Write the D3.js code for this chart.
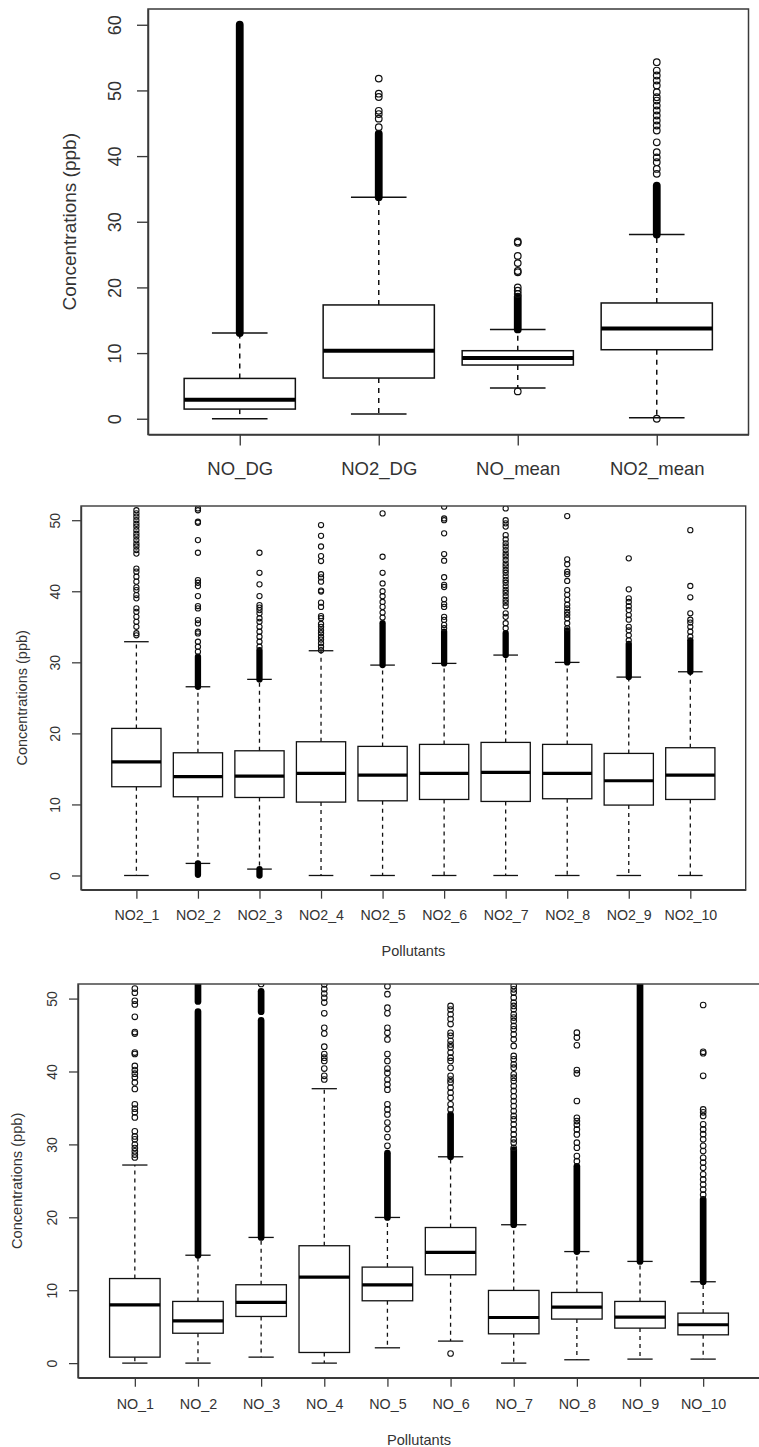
<!DOCTYPE html>
<html><head><meta charset="utf-8">
<script src="https://cdn.jsdelivr.net/npm/d3@7/dist/d3.min.js"></script>
<style>
body{margin:0;background:#fff;}
svg{display:block;}
text{font-family:"Liberation Sans",Arial,sans-serif;fill:#333;}
</style></head><body>
<svg id="chart" width="759" height="1447"></svg>
<script>
// ---------------- Panel 1 data ----------------
const p1Categories = ["NO_DG", "NO2_DG", "NO_mean", "NO2_mean"];
const p1Min    = [0, 0.71, 4.67, 0.15];
const p1Q1     = [1.47, 6.2, 8.18, 10.51];
const p1Median = [2.9, 10.36, 9.25, 13.76];
const p1Q3     = [6.14, 17.33, 10.36, 17.63];
const p1Max    = [13.06, 33.75, 13.6, 28.04];
const p1Dense  = [[[13.06, 60.0]], [[33.75, 43.4]], [[13.6, 18.6]], [[28.04, 35.5]]];
const p1Outliers = [
  [],
  [44.4, 45.7, 46.4, 46.9, 49.0, 49.5, 51.8],
  [19.0, 19.5, 20.0, 22.3, 22.5, 23.7, 24.8, 26.8, 27.0, 4.16],
  [37.3, 38.05, 39.07, 39.8, 40.6, 42.1, 43.9, 44.66, 45.42, 46.18, 46.94, 47.7, 48.46, 48.97, 49.73, 50.75, 51.5, 52.27, 53.03, 54.3, 0.0]
];
const p1Ticks = [0, 10, 20, 30, 40, 50, 60];

// ---------------- Panel 2 data ----------------
const p2Categories = ["NO2_1","NO2_2","NO2_3","NO2_4","NO2_5","NO2_6","NO2_7","NO2_8","NO2_9","NO2_10"];
const p2Min    = [0, 1.7, 0.9, 0, 0, 0, 0, 0, 0, 0];
const p2Q1     = [12.49, 11.08, 10.98, 10.33, 10.51, 10.7, 10.42, 10.8, 9.91, 10.7];
const p2Median = [16.0, 13.9, 13.97, 14.37, 14.13, 14.37, 14.5, 14.37, 13.33, 14.13];
const p2Q3     = [20.7, 17.27, 17.55, 18.82, 18.17, 18.45, 18.73, 18.45, 17.18, 17.98];
const p2Max    = [32.9, 26.56, 27.6, 31.63, 29.61, 29.85, 31.02, 29.99, 27.92, 28.67];
const p2Dense  = [
  [], [[26.56, 30.8], [0.1, 1.7]], [[27.6, 31.7], [0.0, 0.9]], [],
  [[29.61, 35.5]], [[29.85, 34.3]], [[31.02, 34.1]], [[29.99, 34.5]], [[27.92, 32.6]], [[28.67, 33.1]]
];
const p2Outliers = [
  [51.4, 50.96, 50.5, 50.0, 49.5, 49.1, 48.6, 48.1, 47.7, 47.2, 46.7, 46.3, 45.8, 45.3, 43.2, 42.76, 42.05, 41.35, 40.55, 40.17, 39.47, 39.0, 37.6, 37.1, 36.4, 35.7, 35.0, 34.1, 33.8],
  [51.66, 51.4, 49.79, 49.64, 47.2, 45.42, 41.57, 41.2, 40.73, 39.32, 37.92, 37.59, 35.95, 35.48, 34.31, 34.07, 32.9, 32.2, 31.5],
  [45.42, 42.6, 40.97, 39.32, 38.06, 37.7, 37.35, 36.9, 36.2, 35.7, 35.0, 34.3, 33.6, 32.9, 32.2],
  [49.32, 47.8, 46.3, 44.95, 44.25, 42.4, 41.95, 41.35, 40.1, 39.95, 38.4, 37.8, 36.5, 36.2, 35.4, 35.0, 34.5, 34.1, 33.6, 33.2, 32.7, 32.2, 31.7],
  [36.3, 37.0, 37.8, 38.5, 39.3, 40.0, 41.1, 42.6, 44.86, 50.96],
  [34.8, 35.27, 35.97, 36.4, 37.8, 38.2, 38.86, 40.6, 40.9, 41.97, 44.3, 45.24, 48.15, 50.0, 50.25, 51.9],
  [34.8, 35.5, 36.4, 36.9, 37.9, 38.4, 38.8, 39.3, 39.8, 40.2, 40.7, 41.2, 41.6, 42.1, 42.6, 43.0, 43.5, 43.9, 44.4, 44.9, 45.3, 45.8, 46.3, 46.75, 47.3, 47.9, 49.1, 49.56, 50.0, 51.66],
  [34.8, 35.5, 36.2, 36.7, 37.1, 37.6, 38.1, 38.8, 39.5, 40.17, 41.45, 42.4, 42.75, 43.8, 44.5, 50.58],
  [33.1, 33.8, 34.5, 35.0, 36.0, 36.65, 37.35, 37.9, 38.5, 39.0, 40.27, 44.63],
  [33.6, 34.3, 35.0, 35.6, 36.0, 36.9, 39.15, 40.75, 48.6]
];
const p2Ticks = [0, 10, 20, 30, 40, 50];

// ---------------- Panel 3 data ----------------
const p3Categories = ["NO_1","NO_2","NO_3","NO_4","NO_5","NO_6","NO_7","NO_8","NO_9","NO_10"];
const p3Min    = [0, 0, 0.82, 0, 2.1, 3.02, 0, 0.46, 0.55, 0.55];
const p3Q1     = [0.82, 4.1, 6.4, 1.46, 8.55, 12.12, 4.02, 6.04, 4.8, 3.88];
const p3Median = [8.0, 5.8, 8.32, 11.8, 10.74, 15.18, 6.26, 7.68, 6.3, 5.26];
const p3Q3     = [11.6, 8.46, 10.75, 16.1, 13.17, 18.6, 9.97, 9.69, 8.46, 6.86];
const p3Max    = [27.17, 14.8, 17.24, 37.64, 19.98, 28.3, 18.98, 15.3, 13.95, 11.16];
const p3Dense  = [
  [], [[14.8, 48.2], [49.6, 52.5]], [[17.24, 47.0], [48.2, 51.0]], [],
  [[19.98, 28.8]], [[28.3, 34.1]], [[18.98, 29.3]], [[15.3, 27.0]], [[13.95, 52.5]], [[11.16, 22.45]]
];
const p3Outliers = [
  [51.37, 50.8, 49.7, 49.2, 47.5, 45.4, 45.2, 42.6, 42.4, 40.76, 40.2, 39.7, 39.2, 38.5, 37.6, 35.5, 34.9, 34.4, 33.7, 31.8, 31.1, 30.7, 29.98, 29.5, 29.06, 28.6, 28.2],
  [],
  [52.0],
  [51.95, 51.3, 50.7, 50.1, 49.45, 47.98, 46.0, 45.2, 43.4, 42.4, 41.9, 41.45, 40.4, 39.4, 38.9],
  [29.8, 31.0, 32.1, 33.0, 34.1, 34.8, 35.5, 37.5, 38.2, 38.9, 39.8, 40.4, 41.45, 42.4, 44.4, 45.3, 46.0, 47.98, 48.75, 50.6, 51.7],
  [34.8, 35.5, 36.4, 37.1, 37.8, 38.5, 38.9, 39.4, 40.5, 41.45, 41.9, 42.6, 43.3, 43.7, 44.2, 44.9, 45.3, 46.5, 47.2, 47.85, 48.5, 48.99, 1.32],
  [29.54, 30.23, 30.69, 31.37, 32.06, 32.75, 33.43, 33.9, 34.57, 35.26, 35.95, 36.6, 37.33, 38.0, 38.69, 39.15, 39.61, 40.52, 40.98, 41.67, 42.13, 43.5, 44.41, 45.1, 45.79, 46.25, 46.93, 47.39, 47.85, 48.53, 48.99, 49.45, 50.13, 50.82, 51.27, 51.73],
  [27.7, 28.4, 29.54, 30.23, 31.37, 32.06, 32.7, 33.2, 33.65, 35.95, 39.74, 40.2, 43.6, 44.65, 45.33],
  [],
  [23.1, 23.8, 24.5, 25.2, 25.9, 26.8, 27.5, 28.17, 29.08, 29.8, 30.69, 31.4, 32.06, 32.75, 33.9, 34.4, 34.8, 39.4, 42.5, 42.71, 49.12]
];
const p3Ticks = [0, 10, 20, 30, 40, 50];

const yTitle = "Concentrations (ppb)";
const xTitle = "Pollutants";

// ---------------- drawing ----------------
const svg = d3.select("#chart");
let clipId = 0;

function drawPanel(c) {
  const n = c.categories.length;
  const g = svg.append("g");
  const x = d3.scaleLinear()
    .domain([0.5 - 0.04 * n, n + 0.5 + 0.04 * n])
    .range([c.left, c.right]);
  const y = d3.scaleLinear()
    .domain([c.yLim[0] - 0.04 * (c.yLim[1] - c.yLim[0]), c.yLim[1] + 0.04 * (c.yLim[1] - c.yLim[0])])
    .range([c.bottom, c.top]);
  const unit = x(2) - x(1);
  const bw = 0.8 * unit;
  const idx = d3.range(1, n + 1);

  const cid = "clip" + (clipId++);
  g.append("clipPath").attr("id", cid).append("rect")
    .attr("x", c.left).attr("y", c.top)
    .attr("width", c.right - c.left).attr("height", c.bottom - c.top);

  const boxes = g.append("g").selectAll("g").data(idx).join("g");
  // whiskers
  boxes.append("line")
    .attr("x1", i => x(i)).attr("x2", i => x(i))
    .attr("y1", i => y(c.q3[i - 1])).attr("y2", i => y(c.max[i - 1]))
    .attr("stroke", "#111").attr("stroke-width", c.lw).attr("stroke-dasharray", c.dash);
  boxes.append("line")
    .attr("x1", i => x(i)).attr("x2", i => x(i))
    .attr("y1", i => y(c.q1[i - 1])).attr("y2", i => y(c.min[i - 1]))
    .attr("stroke", "#111").attr("stroke-width", c.lw).attr("stroke-dasharray", c.dash);
  // staples
  boxes.append("line")
    .attr("x1", i => x(i) - bw / 4).attr("x2", i => x(i) + bw / 4)
    .attr("y1", i => y(c.max[i - 1])).attr("y2", i => y(c.max[i - 1]))
    .attr("stroke", "#111").attr("stroke-width", c.lw);
  boxes.append("line")
    .attr("x1", i => x(i) - bw / 4).attr("x2", i => x(i) + bw / 4)
    .attr("y1", i => y(c.min[i - 1])).attr("y2", i => y(c.min[i - 1]))
    .attr("stroke", "#111").attr("stroke-width", c.lw);
  // box
  boxes.append("rect")
    .attr("x", i => x(i) - bw / 2).attr("width", bw)
    .attr("y", i => y(c.q3[i - 1]))
    .attr("height", i => y(c.q1[i - 1]) - y(c.q3[i - 1]))
    .attr("fill", "#fff").attr("stroke", "#111").attr("stroke-width", c.lw);
  // median
  boxes.append("line")
    .attr("x1", i => x(i) - bw / 2).attr("x2", i => x(i) + bw / 2)
    .attr("y1", i => y(c.median[i - 1])).attr("y2", i => y(c.median[i - 1]))
    .attr("stroke", "#000").attr("stroke-width", c.medW);

  // outliers (clipped to plot region)
  const og = g.append("g").attr("clip-path", `url(#${cid})`);
  const dd = [];
  c.dense.forEach((runs, k) => runs.forEach(r => dd.push({ i: k + 1, lo: r[0], hi: r[1] })));
  og.selectAll("line.dense").data(dd).join("line").attr("class", "dense")
    .attr("x1", d => x(d.i)).attr("x2", d => x(d.i))
    .attr("y1", d => y(d.lo)).attr("y2", d => y(d.hi))
    .attr("stroke", "#000").attr("stroke-linecap", "round")
    .attr("stroke-width", 2 * c.r + c.cw);
  const pts = [];
  c.outliers.forEach((arr, k) => arr.forEach(v => pts.push({ i: k + 1, v })));
  og.selectAll("circle").data(pts).join("circle")
    .attr("cx", d => x(d.i)).attr("cy", d => y(d.v)).attr("r", c.r)
    .attr("fill", "none").attr("stroke", "#111").attr("stroke-width", c.cw);

  // frame
  g.append("rect")
    .attr("x", c.left).attr("y", c.top)
    .attr("width", c.right - c.left).attr("height", c.bottom - c.top)
    .attr("fill", "none").attr("stroke", "#3a3a3a").attr("stroke-width", c.frameW);

  // y axis
  const ya = g.append("g").attr("transform", `translate(${c.left},0)`)
    .call(d3.axisLeft(y).tickValues(c.ticks).tickSize(c.tickLen).tickSizeOuter(0).tickFormat(d3.format("d")));
  ya.select(".domain").attr("stroke", "#3a3a3a").attr("stroke-width", c.frameW);
  ya.selectAll(".tick line").attr("stroke", "#3a3a3a").attr("stroke-width", c.frameW * 0.9);
  ya.selectAll(".tick text")
    .attr("x", null).attr("dy", null)
    .attr("text-anchor", "middle")
    .attr("transform", `translate(${c.yLabelX - c.left},0) rotate(-90)`)
    .style("font-size", c.fs + "px").style("fill", "#333").style("font-family", "'Liberation Sans',Arial,sans-serif");

  // x axis
  const xa = g.append("g").attr("transform", `translate(0,${c.bottom})`)
    .call(d3.axisBottom(x).tickValues(idx).tickSize(c.tickLen).tickSizeOuter(0).tickFormat(i => c.categories[i - 1]));
  xa.select(".domain").attr("stroke", "#3a3a3a").attr("stroke-width", c.frameW);
  xa.selectAll(".tick line").attr("stroke", "#3a3a3a").attr("stroke-width", c.frameW * 0.9);
  xa.selectAll(".tick text")
    .attr("y", c.xLabelY - c.bottom).attr("dy", null)
    .style("font-size", c.xfs + "px").style("fill", "#333").style("font-family", "'Liberation Sans',Arial,sans-serif");

  // titles
  g.append("text")
    .attr("transform", `translate(${c.yTitleX},${(c.top + c.bottom) / 2}) rotate(-90)`)
    .attr("text-anchor", "middle").style("font-size", c.tfs + "px").text(yTitle);
  if (c.xTitleY) {
    g.append("text")
      .attr("x", (c.left + c.right) / 2).attr("y", c.xTitleY)
      .attr("text-anchor", "middle").style("font-size", c.tfs + "px").text(xTitle);
  }
}

drawPanel({
  categories: p1Categories, min: p1Min, q1: p1Q1, median: p1Median, q3: p1Q3, max: p1Max,
  dense: p1Dense, outliers: p1Outliers, ticks: p1Ticks, yLim: [0, 60],
  left: 148, right: 748.5, top: 9, bottom: 434.5,
  lw: 1.5, medW: 4, dash: "5,5", r: 3.3, cw: 1.2, frameW: 1.5, tickLen: 11,
  fs: 18, xfs: 18.5, tfs: 19, yLabelX: 121, yTitleX: 76, xLabelY: 474.5, xTitleY: null
});
drawPanel({
  categories: p2Categories, min: p2Min, q1: p2Q1, median: p2Median, q3: p2Q3, max: p2Max,
  dense: p2Dense, outliers: p2Outliers, ticks: p2Ticks, yLim: [0, 50],
  left: 81, right: 745.7, top: 506, bottom: 889.7,
  lw: 1.3, medW: 3.2, dash: "4,4", r: 2.6, cw: 1.1, frameW: 1.4, tickLen: 9,
  fs: 14, xfs: 14.2, tfs: 14.5, yLabelX: 60, yTitleX: 27, xLabelY: 920, xTitleY: 956
});
drawPanel({
  categories: p3Categories, min: p3Min, q1: p3Q1, median: p3Median, q3: p3Q3, max: p3Max,
  dense: p3Dense, outliers: p3Outliers, ticks: p3Ticks, yLim: [0, 50],
  left: 78, right: 760, top: 984, bottom: 1377.7,
  lw: 1.3, medW: 3.2, dash: "4,4", r: 2.8, cw: 1.1, frameW: 1.4, tickLen: 9,
  fs: 14, xfs: 14.3, tfs: 14.6, yLabelX: 57, yTitleX: 22, xLabelY: 1409.5, xTitleY: 1444.5
});
</script>
</body></html>
